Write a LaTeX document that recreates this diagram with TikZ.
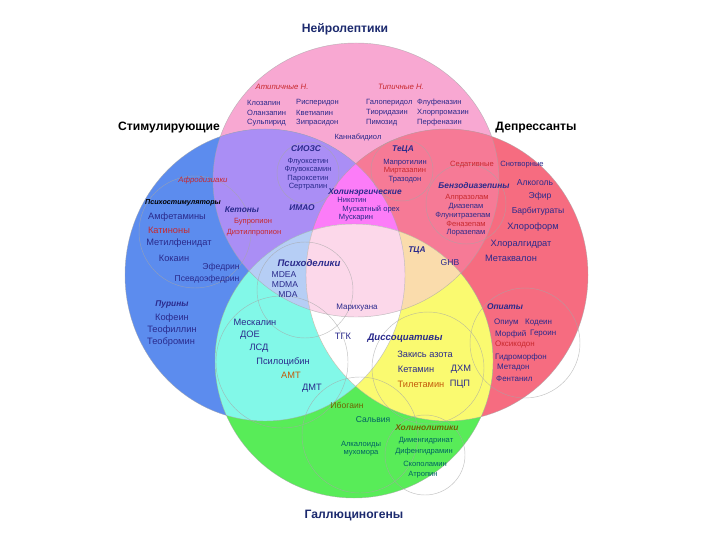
\documentclass[tikz,border=0pt]{standalone}
\usepackage{fontspec}
\setmainfont{Liberation Sans}
\usetikzlibrary{positioning}

% colori
\definecolor{cPink}{RGB}{248,168,210}
\definecolor{cBlue}{RGB}{92,140,238}
\definecolor{cRed}{RGB}{246,108,128}
\definecolor{cGreen}{RGB}{88,236,88}
\definecolor{cPurple}{RGB}{170,142,245}
\definecolor{cSalmon}{RGB}{246,122,150}
\definecolor{cMagenta}{RGB}{252,124,248}
\definecolor{cCyan}{RGB}{130,248,232}
\definecolor{cYellow}{RGB}{250,250,112}
\definecolor{cLightBlue}{RGB}{182,206,245}
\definecolor{cLightOrange}{RGB}{250,220,172}
\definecolor{cLightPink}{RGB}{252,216,234}
\definecolor{cNavy}{RGB}{42,42,140}
\definecolor{cTitle}{RGB}{28,42,110}
\definecolor{cRedText}{RGB}{200,40,45}
\definecolor{cOrange}{RGB}{196,90,10}
\definecolor{cTeal}{RGB}{0,98,98}
\definecolor{cOlive}{RGB}{110,100,0}

% ellissi
\newcommand{\neuroE}{(356,180) ellipse [x radius=143, y radius=137]}
\newcommand{\stimE}{(265,275) ellipse [x radius=140, y radius=146]}
\newcommand{\deprE}{(447,275) ellipse [x radius=141, y radius=146]}
\newcommand{\halluE}{(354,361) ellipse [x radius=139, y radius=137]}

\tikzset{
  drug/.style={font=\fontsize{7.6}{8}\selectfont, text=cNavy, inner sep=0pt},
  drugmid/.style={drug, font=\fontsize{8.6}{9}\selectfont},
  drugbig/.style={drug, font=\fontsize{9.3}{10}\selectfont},
  drugopi/.style={drug, font=\fontsize{8}{9}\selectfont, anchor=west},
  drugred/.style={drug, text=cRedText},
  drugteal/.style={drug, text=cTeal},
  grp/.style={font=\fontsize{8.4}{9}\selectfont\bfseries\itshape, text=cNavy, inner sep=0pt},
  grpbig/.style={grp, font=\fontsize{9.6}{10}\selectfont\bfseries\itshape},
  grpred/.style={font=\fontsize{7.8}{9}\selectfont\itshape, text=cRedText, inner sep=0pt},
  bigtitle/.style={font=\fontsize{12.2}{14}\selectfont\bfseries, inner sep=0pt},
  ring/.style={draw=gray!70, line width=0.45pt, opacity=0.7}
}

\begin{document}
\begin{tikzpicture}[x=1bp, y=-1bp]
\useasboundingbox (0,0) rectangle (720,540);
\fill[white] (0,0) rectangle (720,540);

% regioni singole
\fill[cPink] \neuroE;
\fill[cBlue] \stimE;
\fill[cRed] \deprE;
\fill[cGreen] \halluE;

% coppie
\begin{scope}
  \clip \neuroE;
  \fill[cPurple] \stimE;
  \fill[cSalmon] \deprE;
\end{scope}
\begin{scope}
  \clip \halluE;
  \fill[cCyan] \stimE;
  \fill[cYellow] \deprE;
\end{scope}

% terne
\begin{scope}
  \clip \neuroE; \clip \stimE;
  \fill[cMagenta] \deprE;
\end{scope}
\begin{scope}
  \clip \neuroE; \clip \halluE;
  \fill[cLightBlue] \stimE;
  \fill[cLightOrange] \deprE;
\end{scope}
\begin{scope}
  \clip \halluE; \clip \stimE;
  \fill[white] \deprE;
\end{scope}

% centro
\begin{scope}
  \clip \neuroE; \clip \stimE; \clip \deprE;
  \fill[cLightPink] \halluE;
\end{scope}

% contorni
\draw[ring] \neuroE;
\draw[ring] \stimE;
\draw[ring] \deprE;
\draw[ring] \halluE;

% cerchi piccoli
\draw[ring] (308,173) circle [radius=31];
\draw[ring] (402,170) circle [radius=31];
\draw[ring] (466,204) circle [radius=40];
\draw[ring] (195,232) circle [radius=56];
\draw[ring] (305,290) circle [radius=48];
\draw[ring] (282,362) circle [radius=66];
\draw[ring] (428,368) circle [radius=56];
\draw[ring] (525,343) circle [radius=55];
\draw[ring] (360,435) circle [radius=58];
\draw[ring] (425,455) circle [radius=40];

% titoli
\node[bigtitle, text=cTitle] (neuro) at (345,29) {Нейролептики};
\node[bigtitle] (stim) at (169,128) {Стимулирующие};
\node[bigtitle] (depr) at (536,128) {Депрессанты};
\node[bigtitle, text=cTitle] (hallu) at (354,516) {Галлюциногены};

% нейролептики
\node[grpred] (atyp) at (282,87) {Атипичные Н.};
\node[grpred] (typ) at (401,87) {Типичные Н.};
\node[drug, anchor=west] (clz) at (247,103) {Клозапин};
\node[drug, anchor=west] (ris) at (296,103) {Рисперидон};
\node[drug, anchor=west] (hal) at (366,103) {Галоперидол};
\node[drug, anchor=west] (flu) at (417,103) {Флуфеназин};
\node[drug, anchor=west] (olz) at (247,113) {Оланзапин};
\node[drug, anchor=west] (que) at (296,113) {Кветиапин};
\node[drug, anchor=west] (thi) at (366,113) {Тиоридазин};
\node[drug, anchor=west] (chl) at (417,113) {Хлорпромазин};
\node[drug, anchor=west] (sul) at (247,123) {Сульпирид};
\node[drug, anchor=west] (zip) at (296,123) {Зипрасидон};
\node[drug, anchor=west] (pim) at (366,123) {Пимозид};
\node[drug, anchor=west] (per) at (417,123) {Перфеназин};
\node[drug] (cbd) at (358,137) {Каннабидиол};

% антидепрессанты
\node[grp] (ssri) at (306,149) {СИОЗС};
\node[drug] (flx) at (308,162) {Флуоксетин};
\node[drug] (flv) at (308,170) {Флувоксамин};
\node[drug] (par) at (308,179) {Пароксетин};
\node[drug] (ser) at (308,187) {Сертралин};
\node[grp] (teca) at (403,149) {ТеЦА};
\node[drug] (map) at (405,163) {Мапротилин};
\node[drugred] (mir) at (405,171) {Миртазапин};
\node[drug] (tra) at (405,180) {Тразодон};
\node[grp] (maoi) at (302,208) {ИМАО};
\node[grp] (chol) at (365,192) {Холинэргические};
\node[drug] (nic) at (352,200) {Никотин};
\node[drug] (nut) at (371,209) {Мускатный орех};
\node[drug] (mus) at (356,218) {Мускарин};

% стимуляторы
\node[grpred] (aphr) at (203,180) {Афродизиаки};
\node[grp, text=black, font=\fontsize{7.2}{8}\selectfont\bfseries\itshape] (pstim) at (183,203) {Психостимуляторы};
\node[drugbig] (amp) at (177,217) {Амфетамины};
\node[drugbig, text=cRedText] (cat) at (169,230) {Катиноны};
\node[drugbig] (mph) at (179,243) {Метилфенидат};
\node[drugbig] (coc) at (174,258) {Кокаин};
\node[drugmid] (eph) at (221,267) {Эфедрин};
\node[drugmid] (pse) at (207,279) {Псевдоэфедрин};
\node[grp] (ket) at (242,210) {Кетоны};
\node[drugred] (bup) at (253,222) {Бупропион};
\node[drugred] (dep) at (254,233) {Диэтилпропион};
\node[grp] (pur) at (172,304) {Пурины};
\node[drugbig] (caf) at (172,318) {Кофеин};
\node[drugbig] (tph) at (172,330) {Теофиллин};
\node[drugbig] (tbr) at (171,342) {Теобромин};

% депрессанты
\node[drugred] (sed) at (472,165) {Седативные};
\node[drug] (hyp) at (522,165) {Снотворные};
\node[grp] (bzd) at (474,186) {Бензодиазепины};
\node[drugred] (alp) at (467,198) {Алпразолам};
\node[drug] (dia) at (466,207) {Диазепам};
\node[drug] (fln) at (463,216) {Флунитразепам};
\node[drugred] (phn) at (466,224) {Феназепам};
\node[drug] (lor) at (466,233) {Лоразепам};
\node[drugmid] (alc) at (535,183) {Алкоголь};
\node[drugmid] (eth) at (540,196) {Эфир};
\node[drugmid] (bar) at (538,211) {Барбитураты};
\node[drugbig] (chf) at (533,227) {Хлороформ};
\node[drugbig] (chh) at (521,244) {Хлоралгидрат};
\node[drugbig] (mtq) at (511,258) {Метаквалон};
\node[grp] (tca) at (417,250) {ТЦА};
\node[drugmid] (ghb) at (450,263) {GHB};

% опиаты
\node[grp] (opi) at (505,307) {Опиаты};
\node[drugopi] (opm) at (494,323) {Опиум};
\node[drugopi] (cod) at (525,323) {Кодеин};
\node[drugopi] (mor) at (495,334) {Морфий};
\node[drugopi] (her) at (530,334) {Героин};
\node[drugopi, text=cRedText] (oxy) at (495,345) {Оксикодон};
\node[drugopi] (hym) at (495,357) {Гидроморфон};
\node[drugopi] (met) at (497,368) {Метадон};
\node[drugopi] (fen) at (496,379) {Фентанил};

% психоделики
\node[grpbig] (psy) at (309,263) {Психоделики};
\node[drugmid] (mdea) at (284,275) {MDEA};
\node[drugmid] (mdma) at (285,285) {MDMA};
\node[drugmid] (mda) at (288,295) {MDA};
\node[drug, font=\fontsize{8}{9}\selectfont] (mar) at (357,308) {Марихуана};
\node[drugbig] (thc) at (343,336) {ТГК};
\node[drugbig] (mes) at (255,322) {Мескалин};
\node[drugbig] (doe) at (250,335) {ДОЕ};
\node[drugbig] (lsd) at (259,348) {ЛСД};
\node[drugbig] (psi) at (283,362) {Псилоцибин};
\node[drugbig, text=cOrange] (amt) at (291,375) {АМТ};
\node[drugbig] (dmt) at (312,388) {ДМТ};

% диссоциативы
\node[grpbig] (dis) at (405,338) {Диссоциативы};
\node[drugbig] (nox) at (425,354) {Закись азота};
\node[drugbig] (kta) at (416,369) {Кетамин};
\node[drugbig] (dxm) at (461,369) {ДХМ};
\node[drugbig, text=cOrange] (til) at (421,384) {Тилетамин};
\node[drugbig] (pcp) at (460,384) {ПЦП};

% делирианты
\node[drugmid, text=cOlive] (ibo) at (347,405) {Ибогаин};
\node[drugmid, text=cTeal] (sal) at (373,420) {Сальвия};
\node[grp, text=cOlive] (acl) at (427,428) {Холинолитики};
\node[drugteal] (alk) at (361,445) {Алкалоиды};
\node[drugteal] (amn) at (361,453) {мухомора};
\node[drugteal] (dmh) at (426,441) {Дименгидринат};
\node[drugteal] (dph) at (424,452) {Дифенгидрамин};
\node[drugteal] (sco) at (425,464) {Скополамин};
\node[drugteal] (atr) at (423,475) {Атропин};

\end{tikzpicture}
\end{document}
